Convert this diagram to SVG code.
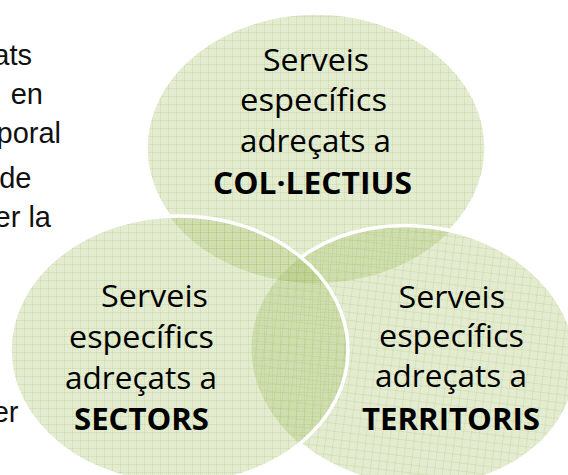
<svg xmlns="http://www.w3.org/2000/svg" width="568" height="475" viewBox="0 0 568 475">
  <style>
    .lbl { font-family: "Open Sans", "Noto Sans", "DejaVu Sans", sans-serif; font-size: 30.5px; fill: #000; }
    .lbl-b { font-family: "Open Sans", "Noto Sans", "DejaVu Sans", sans-serif; font-size: 30.5px; font-weight: bold; fill: #000; }
    .slide { font-family: "Liberation Sans", Arial, sans-serif; font-size: 29px; fill: #111; text-anchor: end; }
    .edge { fill: none; stroke: #ffffff; stroke-width: 3.5; }
    .fillg { fill: url(#grid); }
  </style>
  <defs>
    <pattern id="grid" width="8" height="8" patternUnits="userSpaceOnUse">
      <rect width="8" height="8" fill="#9bbb59" fill-opacity="0.27"/>
      <path d="M0 0.5H8M0.5 0V8" stroke="#9bbb59" stroke-opacity="0.2" stroke-width="1"/>
      <path d="M2 2h1v1h-1zM6 2h1v1h-1zM2 6h1v1h-1zM6 6h1v1h-1zM4 4h1v1h-1z" fill="#9bbb59" fill-opacity="0.08"/>
    </pattern>
    <ellipse id="shTop" cx="316" cy="148" rx="170" ry="135"/>
    <ellipse id="shLeft" cx="179" cy="350" rx="169" ry="134"/>
    <ellipse id="shRight" cx="414" cy="356" rx="163" ry="130" transform="rotate(7 414 356)"/>
    <mask id="mTop" maskUnits="userSpaceOnUse" x="0" y="0" width="568" height="475">
      <rect x="0" y="0" width="568" height="475" fill="#fff"/>
      <use href="#shLeft" fill="#000"/>
      <use href="#shRight" fill="#000"/>
    </mask>
    <mask id="mRight" maskUnits="userSpaceOnUse" x="0" y="0" width="568" height="475">
      <rect x="0" y="0" width="568" height="475" fill="#fff"/>
      <use href="#shLeft" fill="#000"/>
    </mask>
  </defs>

  <rect x="0" y="0" width="568" height="475" fill="#ffffff"/>

  <g id="slide-text">
    <text class="slide" x="32" y="65">ats</text>
    <text class="slide" x="43" y="104">en</text>
    <text class="slide" x="61" y="142.5">poral</text>
    <text class="slide" x="31.5" y="188">de</text>
    <text class="slide" x="51" y="226.5">er la</text>
    <text class="slide" x="18.5" y="421.5">er</text>
  </g>

  <g id="node-collectius">
    <use href="#shTop" class="fillg"/>
    <use href="#shTop" class="edge" mask="url(#mTop)"/>
    <text class="lbl" x="263" y="71" textLength="106" lengthAdjust="spacingAndGlyphs">Serveis</text>
    <text class="lbl" x="240" y="111" textLength="147" lengthAdjust="spacingAndGlyphs">específics</text>
    <text class="lbl" x="240" y="151.5" textLength="151" lengthAdjust="spacingAndGlyphs">adreçats a</text>
    <text class="lbl-b" x="213" y="194" textLength="199" lengthAdjust="spacingAndGlyphs">COL·LECTIUS</text>
  </g>

  <g id="node-territoris">
    <use href="#shRight" class="fillg"/>
    <use href="#shRight" class="edge" mask="url(#mRight)"/>
    <text class="lbl" x="398.5" y="308" textLength="106.5" lengthAdjust="spacingAndGlyphs">Serveis</text>
    <text class="lbl" x="379" y="347" textLength="145" lengthAdjust="spacingAndGlyphs">específics</text>
    <text class="lbl" x="375" y="387" textLength="152" lengthAdjust="spacingAndGlyphs">adreçats a</text>
    <text class="lbl-b" x="362" y="430" textLength="178" lengthAdjust="spacingAndGlyphs">TERRITORIS</text>
  </g>

  <g id="node-sectors">
    <use href="#shLeft" class="fillg"/>
    <use href="#shLeft" class="edge"/>
    <text class="lbl" x="101" y="307" textLength="107" lengthAdjust="spacingAndGlyphs">Serveis</text>
    <text class="lbl" x="69" y="348" textLength="145" lengthAdjust="spacingAndGlyphs">específics</text>
    <text class="lbl" x="65" y="389" textLength="152" lengthAdjust="spacingAndGlyphs">adreçats a</text>
    <text class="lbl-b" x="74" y="430" textLength="135" lengthAdjust="spacingAndGlyphs">SECTORS</text>
  </g>
</svg>
